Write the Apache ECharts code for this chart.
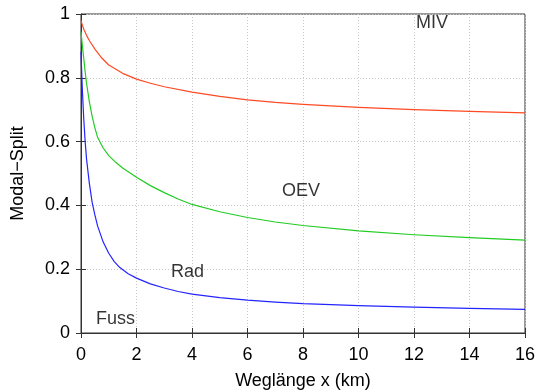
<!DOCTYPE html>
<html>
<head>
<meta charset="utf-8">
<script src="https://cdn.jsdelivr.net/npm/echarts@6/dist/echarts.min.js"></script>
<style>
  html, body { margin: 0; padding: 0; background: #fff; }
  #chart { width: 542px; height: 392px; }
</style>
</head>
<body>
<div id="chart"></div>
<script>
// values
const mivX = [0, 0.05, 0.1, 0.2, 0.3, 0.5, 0.75, 1, 1.5, 2, 2.5, 3, 4, 5, 6, 7, 8, 10, 12, 14, 16]
const mivY = [0.98, 0.965, 0.952, 0.933, 0.917, 0.89, 0.862, 0.84, 0.814, 0.796, 0.783, 0.772, 0.755, 0.742, 0.731, 0.723, 0.717, 0.707, 0.700, 0.695, 0.690]

const oevX = [0, 0.05, 0.1, 0.15, 0.2, 0.3, 0.4, 0.5, 0.6, 0.8, 1, 1.25, 1.5, 2, 2.5, 3, 3.5, 4, 5, 6, 7, 8, 10, 12, 14, 16]
const oevY = [0.945, 0.90, 0.86, 0.818, 0.783, 0.725, 0.68, 0.643, 0.613, 0.58, 0.556, 0.535, 0.517, 0.488, 0.462, 0.44, 0.42, 0.403, 0.38, 0.362, 0.348, 0.337, 0.320, 0.308, 0.299, 0.291]

const radX = [0, 0.02, 0.05, 0.1, 0.15, 0.2, 0.3, 0.4, 0.5, 0.6, 0.8, 1, 1.2, 1.4, 1.7, 2, 2.5, 3, 3.5, 4, 5, 6, 7, 8, 10, 12, 14, 16]
const radY = [0.882, 0.83, 0.76, 0.67, 0.60, 0.545, 0.47, 0.41, 0.37, 0.335, 0.285, 0.25, 0.224, 0.205, 0.186, 0.172, 0.154, 0.141, 0.13, 0.122, 0.111, 0.103, 0.097, 0.092, 0.086, 0.081, 0.077, 0.074]

const labelNames = ['MIV', 'OEV', 'Rad', 'Fuss']
const labelX = [12.65, 7.93, 3.84, 1.24]
const labelY = [0.975, 0.448, 0.195, 0.046]

const xTicks = [0, 2, 4, 6, 8, 10, 12, 14, 16]
const yTicks = [0, 0.2, 0.4, 0.6, 0.8, 1]

const FONT = 'Liberation Sans, Arial, sans-serif'
const FS = 18
const pair = (xs, ys) => xs.map((x, i) => [x, ys[i]])

const chart = echarts.init(document.getElementById('chart'), null, { renderer: 'canvas' })

const gridLine = { show: true, lineStyle: { color: '#c8c8c8', type: [1, 2], width: 1 } }
const tickIn = { show: true, inside: true, length: 5, lineStyle: { color: '#333' } }

const curve = (name, xs, ys, color) => ({
  name, type: 'line', smooth: false, showSymbol: false, data: pair(xs, ys),
  lineStyle: { color, width: 1.2, join: 'round' }, itemStyle: { color }
})

chart.setOption({
  animation: false,
  grid: { left: 81, right: 17, top: 14, bottom: 59, show: true, borderColor: '#333', borderWidth: 1,
    outerBoundsMode: 'none', containLabel: false },
  xAxis: [
    {
      type: 'value', min: 0, max: 16, interval: 2,
      name: 'Weglänge x (km)', nameLocation: 'middle', nameGap: 39,
      nameTextStyle: { color: '#000', fontSize: FS, fontFamily: FONT },
      axisLine: { show: true, lineStyle: { color: '#333' } },
      axisTick: tickIn,
      splitLine: gridLine,
      axisLabel: { color: '#000', fontSize: FS, fontFamily: FONT, margin: 13,
        formatter: v => xTicks.includes(v) ? String(v) : '' }
    },
    {
      type: 'value', min: 0, max: 16, interval: 2, position: 'top',
      axisLine: { show: false }, axisTick: tickIn, axisLabel: { show: false }, splitLine: { show: false }
    }
  ],
  yAxis: [
    {
      type: 'value', min: 0, max: 1, interval: 0.2,
      name: 'Modal\u2212Split', nameLocation: 'middle', nameGap: 54, nameRotate: 90,
      nameTextStyle: { color: '#000', fontSize: FS, fontFamily: FONT },
      axisLine: { show: true, lineStyle: { color: '#333' } },
      axisTick: tickIn,
      splitLine: gridLine,
      axisLabel: { color: '#000', fontSize: FS, fontFamily: FONT, margin: 11,
        formatter: v => { const t = yTicks.find(y => Math.abs(y - v) < 1e-9); return t === undefined ? '' : String(+t.toFixed(1)) } }
    },
    {
      type: 'value', min: 0, max: 1, interval: 0.2, position: 'right',
      axisLine: { show: false }, axisTick: tickIn, axisLabel: { show: false }, splitLine: { show: false }
    }
  ],
  series: [
    curve('MIV', mivX, mivY, '#ff4a24'),
    curve('OEV', oevX, oevY, '#22cc22'),
    curve('Rad', radX, radY, '#2424ff'),
    {
      type: 'scatter', symbolSize: 0, silent: true,
      itemStyle: { color: 'transparent' },
      data: labelNames.map((n, i) => ({ value: [labelX[i], labelY[i]], name: n })),
      label: { show: true, position: [0, 0], align: 'center', verticalAlign: 'middle', offset: [0, 1],
        formatter: p => p.name, color: '#000', textBorderWidth: 0, fontSize: FS, fontFamily: FONT }
    }
  ]
})
</script>
</body>
</html>
